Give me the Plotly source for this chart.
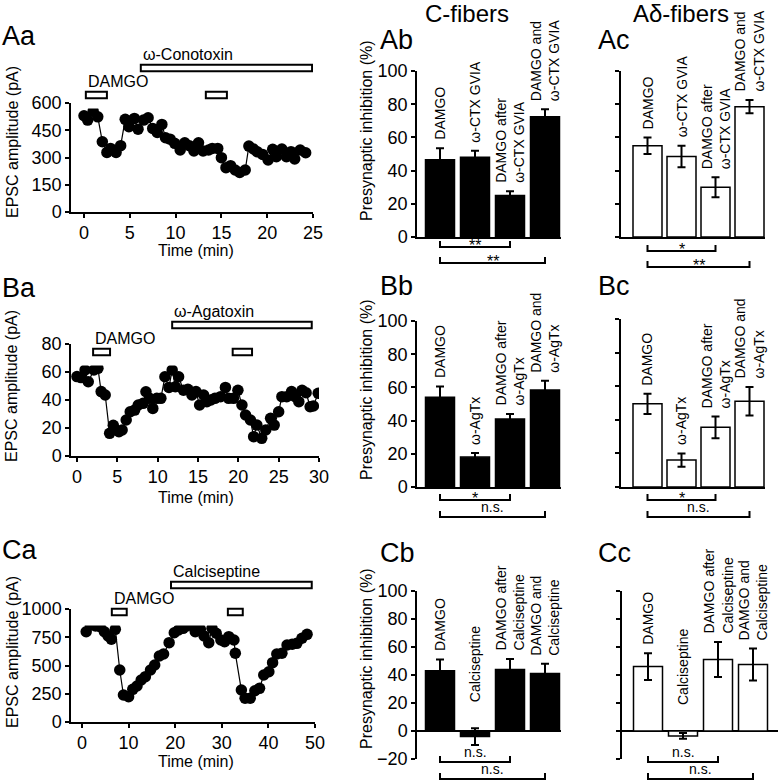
import plotly.graph_objects as go

W, H = 778, 782
FONT = 'Liberation Sans, Arial, sans-serif'

# ---- Aa: EPSC amplitude time course, omega-conotoxin ----
aa_time = [0.0, 0.4, 1.0, 1.5, 2.0, 2.5, 2.9, 3.5, 4.0, 4.5, 4.9, 5.5, 5.9, 6.5, 7.0,
           7.5, 8.0, 8.5, 8.9, 9.4, 9.9, 10.5, 11.0, 11.5, 12.0, 12.5, 13.0, 13.6, 14.0,
           14.6, 15.0, 15.5, 16.0, 16.5, 17.0, 17.6, 18.0, 18.5, 18.9, 19.5, 20.1, 20.6,
           21.0, 21.6, 22.1, 22.6, 23.0, 23.6, 24.2]
aa_epsc = [530, 506, 555, 524, 387, 328, 350, 328, 365, 510, 469, 515, 456, 506, 519,
           460, 438, 482, 409, 401, 378, 341, 381, 365, 336, 381, 336, 341, 350,
           350, 299, 244, 255, 231, 218, 231, 363, 347, 332, 317, 286, 345,
           304, 347, 304, 332, 292, 341, 326]
aa_damgo = [(0.2, 2.5), (13.3, 15.6)]
aa_toxin = (6.2, 24.9)

# ---- Ba: omega-agatoxin ----
ba_time = [0.0, 0.5, 1.0, 1.4, 2.1, 2.6, 3.0, 3.5, 4.05, 4.5, 5.2, 5.6, 6.1, 6.6, 7.15,
           7.6, 8.2, 8.55, 9.0, 9.4, 9.9, 10.4, 10.9, 11.4, 11.8, 12.2, 12.6, 13.2, 13.75,
           14.25, 14.75, 15.2, 15.7, 16.1, 16.6, 17.1, 17.8, 18.4, 18.8, 19.4, 19.95, 20.45,
           20.9, 21.5, 21.9, 22.3, 22.9, 23.4, 24.0, 24.45, 25.0, 25.4, 26.0, 26.6, 27.05,
           27.5, 27.9, 28.4, 28.9, 29.3, 29.9]
ba_epsc = [56.7, 56, 61.4, 53, 61.4, 62.6, 46, 43.6, 16.2, 22, 17.4, 18.6, 25.7, 31.6, 32.8,
           36.4, 37.6, 45.9, 41.2, 34, 41.2, 41.2, 56.6, 49, 61.4, 49.5, 56.6, 47, 47.6,
           43.6, 46, 36.4, 43.6, 38.8, 40, 41.2, 42.4, 49, 41.2, 41.2, 47, 36.4,
           29.3, 25.7, 13.8, 22.1, 12.6, 18.6, 26.9, 22.1, 31.6, 42.4, 42.4, 46, 42.4,
           38.8, 47, 45.2, 35.2, 35.7, 44.8]
ba_damgo = [(2.0, 4.1), (19.3, 21.7)]
ba_toxin = (11.8, 29.1)

# ---- Ca: calciseptine ----
ca_time = [0.9, 1.8, 2.9, 3.9, 4.8, 5.6, 6.3, 7.15, 8.1, 8.9, 10.0, 10.9, 11.8, 12.7, 13.6,
           14.7, 15.6, 16.6, 17.5, 18.7, 19.8, 20.7, 21.7, 22.5, 23.5, 24.3, 25.4, 26.2,
           27.2, 27.9, 28.8, 29.8, 30.6, 31.5, 32.6, 32.9, 34.2, 35.0, 36.1, 37.1, 38.1,
           39.0, 40.1, 40.9, 41.8, 42.9, 44.0, 45.1, 46.1, 47.2, 48.3]
ca_epsc = [799, 858, 850, 843, 799, 761, 732, 820, 460, 239, 224, 289, 319, 372, 401,
           460, 504, 584, 602, 702, 790, 814, 829, 850, 867, 799, 820, 761,
           702, 829, 785, 726, 711, 755, 726, 608, 283, 210, 210, 277, 298,
           416, 445, 525, 602, 608, 681, 688, 696, 741, 776]
ca_damgo = [(6.4, 9.6), (31.3, 34.5)]
ca_toxin = (19.1, 49.3)

# ---- presynaptic inhibition (%) ----
cats_a = ['DAMGO', 'ω-CTX GVIA', 'DAMGO after<br>ω-CTX GVIA', 'DAMGO and<br>ω-CTX GVIA']
cats_b = ['DAMGO', 'ω-AgTx', 'DAMGO after<br>ω-AgTx', 'DAMGO and<br>ω-AgTx']
cats_c = ['DAMGO', 'Calciseptine', 'DAMGO after<br>Calciseptine', 'DAMGO and<br>Calciseptine']

cfib_a = [46.5, 48, 25, 72.5]
cfib_a_err = [7, 4, 2.5, 4.5]
adfib_a = [55, 48.5, 30, 78.5]
adfib_a_err = [5, 6.5, 6, 4]

cfib_b = [54, 18, 41, 58.5]
cfib_b_err = [6.5, 2.5, 3, 5.5]
adfib_b = [49.5, 16, 35.5, 51]
adfib_b_err = [6, 4, 6.5, 8.5]

cfib_c = [43, -4, 44, 41]
cfib_c_err = [8, 6, 7.5, 7]
adfib_c = [46, -3.5, 51, 47.5]
adfib_c_err = [9.5, 2, 12.5, 11.5]

# significance marks: (label, first bar, last bar)
sig_ab = [('**', 0, 2), ('**', 0, 3)]
sig_ac = [('*', 0, 2), ('**', 0, 3)]
sig_bb = [('*', 0, 2), ('n.s.', 0, 3)]
sig_bc = [('*', 0, 2), ('n.s.', 0, 3)]
sig_cb = [('n.s.', 0, 2), ('n.s.', 0, 3)]
sig_cc = [('n.s.', 0, 2), ('n.s.', 0, 3)]


def xd(a, b):
    return [a / W, b / W]


def yd(top, bot):
    return [1 - bot / H, 1 - top / H]


def name(l, n):
    return l if n == 1 else f'{l}{n}'


def axis(dom, rng, **kw):
    d = dict(domain=dom, range=rng, showgrid=False, zeroline=False, showline=True,
             linecolor='black', linewidth=1.5, ticks='outside', ticklen=4, tickwidth=1.5,
             tickcolor='black', tickfont=dict(size=18, color='black', family=FONT),
             fixedrange=True)
    d.update(kw)
    return d


def note(text, x, y, size, **kw):
    d = dict(text=text, x=x / W, y=1 - y / H, xref='paper', yref='paper', showarrow=False,
             xanchor='center', yanchor='middle',
             font=dict(size=size, color='black', family=FONT))
    d.update(kw)
    return d


fig = go.Figure()
layout = {}
annotations = []
shapes = []

# ---------- left column: time courses ----------
left = [
    (1, 10, aa_time, aa_epsc, aa_damgo, aa_toxin, 'ω-Conotoxin', (71, 313), (103, 212),
     [-1.42, 25], [0, 600], [0, 5, 10, 15, 20, 25], [0, 150, 300, 450, 600], (54.5, 108.5), 142, 250),
    (4, 11, ba_time, ba_epsc, ba_damgo, ba_toxin, 'ω-Agatoxin', (71, 319), (344, 456),
     [-0.74, 30], [0, 80], [0, 5, 10, 15, 20, 25, 30], [0, 20, 40, 60, 80], (311.5, 365.5), 386, 497),
    (7, 12, ca_time, ca_epsc, ca_damgo, ca_toxin, 'Calciseptine', (71, 315), (609, 722),
     [-2.36, 50], [0, 1000], [0, 10, 20, 30, 40, 50], [0, 250, 500, 750, 1000], (571.5, 625.5), 652, 761),
]
for n, s, t, v, damgo, tox, toxname, xp, yp, xr, yr, xt, yt, sp, ty, tx in left:
    xa, ya, sa = name('x', n), name('y', n), name('y', s)
    fig.add_trace(go.Scatter(x=t, y=v, mode='lines+markers', xaxis=xa, yaxis=ya,
                             marker=dict(size=11.5, color='black'),
                             line=dict(color='black', width=1.2)))
    starts = [a for a, b in damgo] + [tox[0]]
    ends = [b for a, b in damgo] + [tox[1]]
    rows = [0] * len(damgo) + [1]
    fig.add_trace(go.Bar(orientation='h', base=starts, x=[e - b for b, e in zip(starts, ends)],
                         y=rows, width=0.24, xaxis=xa, yaxis=sa,
                         marker=dict(color='white', line=dict(color='black', width=2))))
    layout[name('xaxis', n)] = axis(xd(*xp), xr, anchor=ya, tickvals=xt)
    layout[name('yaxis', n)] = axis(yd(*yp), yr, anchor=xa, tickvals=yt)
    layout[name('yaxis', s)] = dict(domain=yd(*sp), range=[-0.5, 1.5], visible=False,
                                    anchor=xa, fixedrange=True)
    annotations.append(dict(text='DAMGO', x=damgo[0][0], y=0, xref=xa, yref=sa,
                            xanchor='left', yanchor='bottom', yshift=3, showarrow=False,
                            font=dict(size=16, color='black', family=FONT)))
    annotations.append(dict(text=toxname, x=tox[0], y=1, xref=xa, yref=sa,
                            xanchor='left', yanchor='bottom', yshift=3, showarrow=False,
                            font=dict(size=16, color='black', family=FONT)))
    annotations.append(note('EPSC amplitude (pA)', 12, ty, 16, textangle=-90))
    annotations.append(note('Time (min)', 196, tx, 16))

# ---------- bar charts ----------
bars = [
    # n, cats, vals, errs, sig, fill, xdom px, ydom px, yrange, cat0 px, px per cat,
    # bracket offsets below axis, y-title centre
    (2, cats_a, cfib_a, cfib_a_err, sig_ab, 'black', (417, 561), (71, 237), [0, 100], 440, 35, (10, 26), 131),
    (3, cats_a, adfib_a, adfib_a_err, sig_ac, 'white', (621, 765), (71, 237), [0, 100], 647.5, 34, (14, 30), 0),
    (5, cats_b, cfib_b, cfib_b_err, sig_bb, 'black', (417, 561), (321, 487), [0, 100], 440, 35, (13, 30), 390),
    (6, cats_b, adfib_b, adfib_b_err, sig_bc, 'white', (621, 765), (319, 487), [0, 100], 647.5, 34, (13, 30), 0),
    (8, cats_c, cfib_c, cfib_c_err, sig_cb, 'black', (417, 561), (591, 759), [-20, 100], 440, 35, (3, 20), 659),
    (9, cats_c, adfib_c, adfib_c_err, sig_cc, 'white', (622, 778), (591, 759), [-20, 100], 648, 35, (3, 20), 0),
]
for n, cats, vals, errs, sig, fill, xp, yp, yr, c0, step, boff, ty in bars:
    xa, ya = name('x', n), name('y', n)
    idx = list(range(len(cats)))
    fig.add_trace(go.Bar(x=idx, y=vals, xaxis=xa, yaxis=ya, width=29 / step,
                         marker=dict(color=fill, line=dict(color='black', width=1.5)),
                         error_y=dict(type='data', array=errs, color='black',
                                      thickness=2, width=4)))
    xr = [-(c0 - xp[0]) / step, (xp[1] - c0) / step]
    neg = yr[0] < 0
    layout[name('xaxis', n)] = axis(xd(*xp), xr, anchor=ya, showticklabels=False,
                                    ticks='', showline=not neg, linewidth=2)
    left_col = fill == 'black'
    layout[name('yaxis', n)] = axis(yd(*yp), yr, anchor=xa, dtick=20,
                                    showticklabels=left_col, zeroline=neg,
                                    zerolinecolor='black', zerolinewidth=2)
    for i, (c, v, e) in enumerate(zip(cats, vals, errs)):
        annotations.append(dict(text=c, x=i, y=max(v + e, 0), xref=xa, yref=ya,
                                textangle=-90, xanchor='center', yanchor='bottom',
                                yshift=6 if v > 0 else 24, align='left', showarrow=False,
                                font=dict(size=14, color='black', family=FONT)))
    for (lab, i0, i1), off in zip(sig, boff):
        py = yp[1] + off
        y0, yt = 1 - py / H, 1 - (py - 6) / H
        shapes.append(dict(type='path', xref=xa, yref='paper',
                           path=f'M {i0},{yt} L {i0},{y0} L {i1},{y0} L {i1},{yt}',
                           line=dict(color='black', width=2)))
        star = lab.startswith('*')
        annotations.append(dict(text=lab, x=(i0 + i1) / 2, y=y0, xref=xa, yref='paper',
                                yanchor='bottom', yshift=-9 if star else 0, showarrow=False,
                                font=dict(size=16 if star else 14, color='black',
                                          family=FONT)))
    if left_col:
        annotations.append(note('Presynaptic inhibition (%)', 366, ty, 16, textangle=-90))

# ---------- panel letters and column titles ----------
for lab, x, y in [('Aa', 0, 36), ('Ab', 378, 40), ('Ac', 596, 40),
                  ('Ba', 0, 288), ('Bb', 378, 286), ('Bc', 596, 286),
                  ('Ca', 0, 550), ('Cb', 378, 553), ('Cc', 596, 553)]:
    annotations.append(note(lab, x, y, 27, xanchor='left'))
annotations.append(note('C-fibers', 467, 13, 24))
annotations.append(note('Aδ-fibers', 681, 13, 24))

fig.update_layout(**layout)
fig.update_layout(width=W, height=H, margin=dict(l=0, r=0, t=0, b=0, autoexpand=False),
                  paper_bgcolor='white', plot_bgcolor='white', showlegend=False,
                  barmode='overlay', annotations=annotations, shapes=shapes,
                  font=dict(family=FONT, color='black'))
fig.write_html('out.html', config={'displayModeBar': False},
               post_script="document.body.style.margin='0px';")
